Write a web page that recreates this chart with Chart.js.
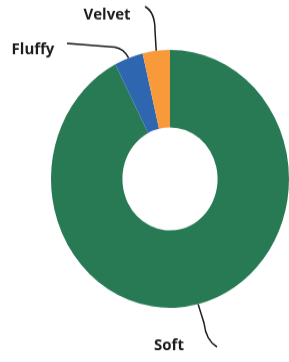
<!DOCTYPE html>
<html>
<head>
<meta charset="utf-8">
<script src="https://cdn.jsdelivr.net/npm/chart.js@4"></script>
<style>
  html, body { margin: 0; padding: 0; background: #fff; width: 289px; height: 362px; }
  #wrap { width: 289px; height: 334px; transform-origin: 0 0; transform: scaleY(1.084); }
  #pieChart { display: block; }
</style>
</head>
<body>
<div id="wrap"><canvas id="pieChart" width="289" height="334"></canvas></div>
<script>
let labels = ['Soft', 'Fluffy', 'Velvet'];
let shares = [92.4, 3.9, 3.7];
let colors = ['#287a54', '#2f66b0', '#f8993a'];

// leader line paths + text spot for each slice (canvas px)
let callouts = {
    Soft:   { text: [169, 319], path: [[204, 298, 'l'], [206, 314, 217, 320, 'q']] },
    Fluffy: { text: [33, 46],   path: [[124, 45, 115, 43.5, 'q'], [67, 40, 'l']] },
    Velvet: { text: [107, 14],  path: [[155, 28, 'l'], [155, 11, 145, 6, 'q']] }
};

let leaderPlugin = {
    id: 'leaders',
    afterDraw(chart) {
        let c = chart.ctx;
        let meta = chart.getDatasetMeta(0);
        c.save();
        c.strokeStyle = '#1c1c1c';
        c.lineWidth = 1.5;
        c.fillStyle = '#1c1c1c';
        c.font = 'bold 15px "Open Sans"';
        c.textAlign = 'center';
        c.textBaseline = 'middle';
        meta.data.forEach((arc, i) => {
            let co = callouts[labels[i]];
            let mid = (arc.startAngle + arc.endAngle) / 2;
            let sx = arc.x + Math.cos(mid) * arc.outerRadius;
            let sy = arc.y + Math.sin(mid) * arc.outerRadius;
            c.beginPath();
            c.moveTo(sx, sy);
            co.path.forEach(p => {
                if (p[p.length - 1] === 'q') c.quadraticCurveTo(p[0], p[1], p[2], p[3]);
                else c.lineTo(p[0], p[1]);
            });
            c.stroke();
            c.fillText(labels[i], co.text[0], co.text[1]);
        });
        c.restore();
    }
};

let pieChart = new Chart(document.getElementById('pieChart'), {
    type: 'doughnut',
    data: {
        labels: labels,
        datasets: [{
            data: shares,
            backgroundColor: colors,
            borderWidth: 0
        }]
    },
    options: {
        responsive: false,
        animation: false,
        cutout: '40%',
        layout: { padding: { left: 51, right: 0, top: 46, bottom: 50 } },
        plugins: {
            legend: { display: false },
            tooltip: { enabled: false }
        }
    },
    plugins: [leaderPlugin]
});
</script>
</body>
</html>
